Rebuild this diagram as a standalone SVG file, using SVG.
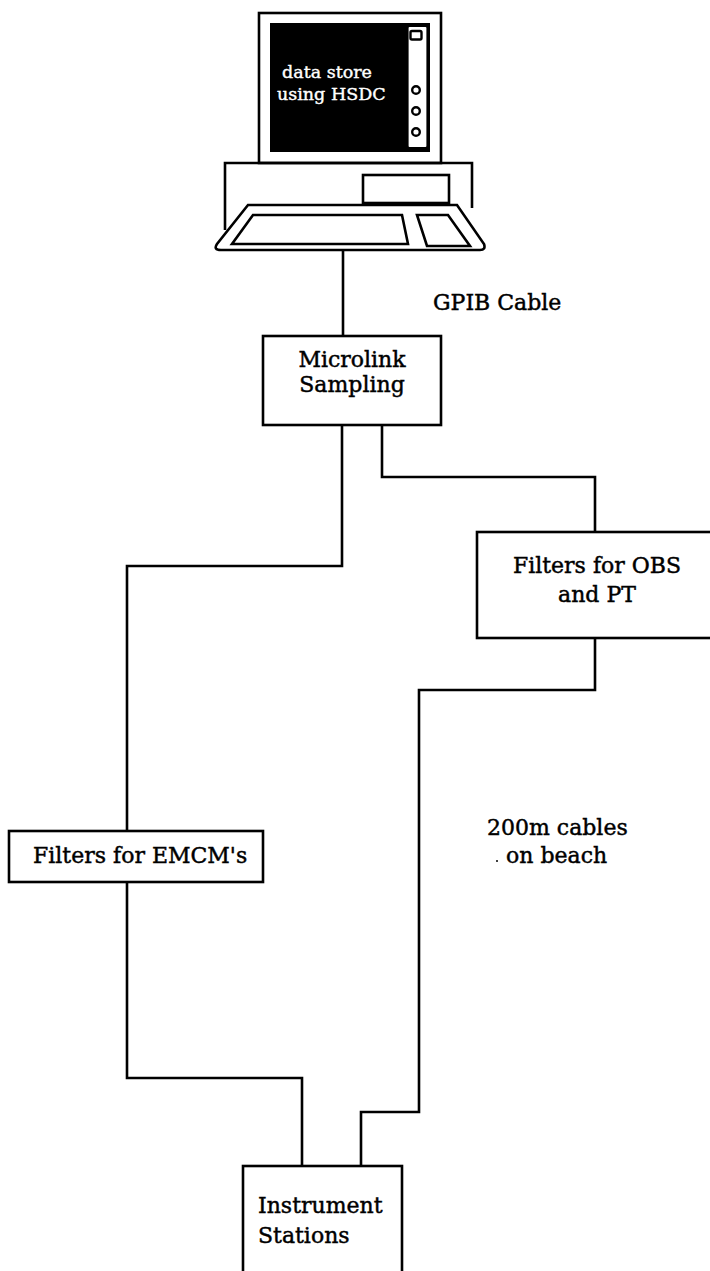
<svg xmlns="http://www.w3.org/2000/svg" width="710" height="1271" viewBox="0 0 710 1271">
  <style>
    .ln { fill: none; stroke: #000; stroke-width: 2.6; stroke-linejoin: miter; }
    .box { fill: #fff; stroke: #000; stroke-width: 2.6; }
    .lbl { font-family: "DejaVu Serif", "Liberation Serif", serif; font-size: 22px; fill: #000; stroke: #000; stroke-width: 0.45; }
    .scr { font-family: "DejaVu Serif", "Liberation Serif", serif; font-size: 17.5px; fill: #fff; stroke: #fff; stroke-width: 0.4; }
    .btn { fill: #fff; stroke: #000; stroke-width: 2.4; }
  </style>
  <rect width="710" height="1271" fill="#fff"/>

  <!-- desktop computer running the data store -->
  <g id="computer">
    <!-- monitor -->
    <rect class="box" x="259" y="13" width="182" height="150" stroke-width="3"/>
    <rect x="270" y="23" width="160" height="129" fill="#000"/>
    <rect x="407.5" y="26" width="20" height="122" rx="2" fill="#fff" stroke="#000" stroke-width="2.2"/>
    <rect x="410.5" y="31" width="11" height="8.5" rx="1.5" class="btn"/>
    <circle cx="416" cy="90" r="3.8" class="btn"/>
    <circle cx="416" cy="111" r="3.8" class="btn"/>
    <circle cx="416" cy="132" r="3.8" class="btn"/>
    <text class="scr" x="282" y="78">data store</text>
    <text class="scr" x="277" y="100">using HSDC</text>
    <!-- base unit -->
    <path class="ln" d="M225,230 V163 H472 V208" stroke-width="3"/>
    <rect class="box" x="363" y="175" width="86" height="28" stroke-width="3"/>
    <!-- keyboard tray -->
    <path class="box" stroke-width="3" d="M248,205 H457 L484,244 Q486,250 480,250 H221 Q213,250 217,244 Z"/>
    <path class="ln" stroke-width="3" d="M253,215 H402 L408,244 H232 Z"/>
    <path class="ln" stroke-width="3" d="M417,215 H448 L470,246 H427 Z"/>
  </g>

  <g id="microlink">
    <rect class="box" x="263" y="336" width="178" height="89"/>
    <text class="lbl" x="352" y="367" text-anchor="middle">Microlink</text>
    <text class="lbl" x="352" y="392" text-anchor="middle">Sampling</text>
  </g>

  <g id="filters-obs">
    <rect class="box" x="477" y="532" width="240" height="106"/>
    <text class="lbl" x="597" y="573" text-anchor="middle">Filters for OBS</text>
    <text class="lbl" x="597" y="602" text-anchor="middle">and PT</text>
  </g>

  <g id="filters-emcm">
    <rect class="box" x="9" y="831" width="254" height="51"/>
    <text class="lbl" x="33" y="863">Filters for EMCM's</text>
  </g>

  <g id="instruments">
    <rect class="box" x="243" y="1166" width="159" height="120"/>
    <text class="lbl" x="258" y="1213">Instrument</text>
    <text class="lbl" x="258" y="1243">Stations</text>
  </g>

  <!-- cable runs -->
  <g id="connectors">
    <path class="ln" d="M343,250 V336"/>
    <path class="ln" d="M342,425 V566 H127 V831"/>
    <path class="ln" d="M382,425 V477 H595 V532"/>
    <path class="ln" d="M595,638 V690 H419 V1112 H361 V1166"/>
    <path class="ln" d="M127,882 V1078 H302 V1166"/>
  </g>

  <!-- cable labels -->
  <g id="labels">
    <text class="lbl" x="433" y="310">GPIB Cable</text>
    <text class="lbl" x="487" y="835">200m cables</text>
    <circle cx="497" cy="861" r="1" fill="#000"/>
    <text class="lbl" x="506" y="863">on beach</text>
  </g>
</svg>
